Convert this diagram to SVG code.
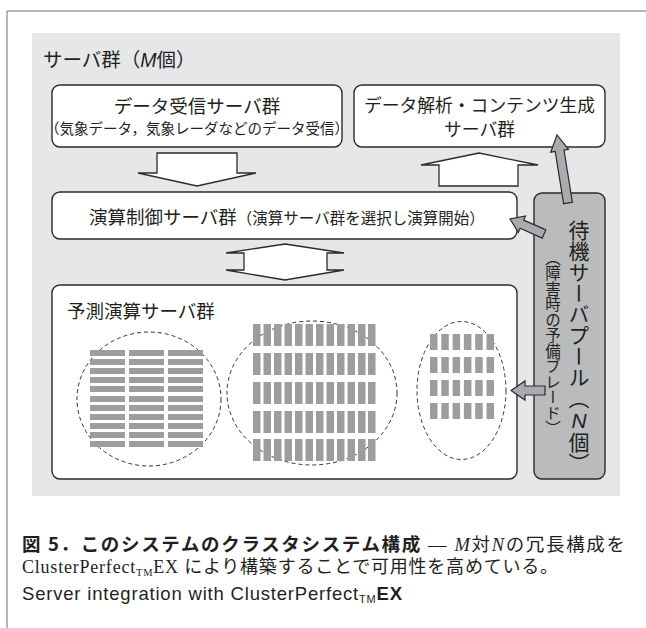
<svg xmlns="http://www.w3.org/2000/svg" width="646" height="628" viewBox="0 0 646 628">
<style>
.box{fill:#fff;stroke:#2b2b2b;stroke-width:1.4}
.hollow{fill:#fff;stroke:#2b2b2b;stroke-width:1.3;stroke-linejoin:miter}
.garrow{fill:#a9abae;stroke:#2b2b2b;stroke-width:1.2;stroke-linejoin:miter}
.t{font-family:"Noto Sans CJK JP","Noto Sans",sans-serif;fill:#231f20}
.ell{fill:none;stroke:#333;stroke-width:1;stroke-dasharray:4 3}
.blk{fill:#9d9d9d}
.cap{font-family:"Noto Sans CJK JP",sans-serif;font-weight:700;fill:#231f20}
.ser{font-family:"Liberation Serif","Noto Sans CJK JP",serif;font-weight:400;fill:#231f20}
.en{font-family:"Liberation Sans",Arial,sans-serif;fill:#231f20}
</style>
<defs>
<rect id="hb" width="35" height="6" class="blk"/>
<rect id="vb" width="7.5" height="22" class="blk"/>
<rect id="sb" width="7.5" height="16" class="blk"/>
<g id="vrow">
<use href="#vb" x="253"/><use href="#vb" x="263.5"/><use href="#vb" x="274"/><use href="#vb" x="284.5"/><use href="#vb" x="295"/><use href="#vb" x="305.5"/><use href="#vb" x="316"/><use href="#vb" x="326.5"/><use href="#vb" x="337"/><use href="#vb" x="347.5"/><use href="#vb" x="358"/><use href="#vb" x="368"/>
</g>
<g id="srow">
<use href="#sb" x="430"/><use href="#sb" x="441.3"/><use href="#sb" x="452.6"/><use href="#sb" x="463.9"/><use href="#sb" x="475.2"/><use href="#sb" x="486.5"/>
</g>
<g id="hrow">
<use href="#hb" x="90"/><use href="#hb" x="129"/><use href="#hb" x="168"/>
</g>
</defs>
<!-- frame -->
<path d="M7 628 V11 H646" fill="none" stroke="#6d6e70" stroke-width="1"/>
<!-- gray background -->
<rect id="bg" x="32" y="33" width="588" height="463" fill="#e6e7e8"/>
<text class="t" x="43" y="67" font-size="19.5">サーバ群（<tspan font-family="Liberation Sans" font-style="italic">M</tspan>個）</text>

<g id="data-receive">
<rect class="box" x="52" y="85" width="290" height="62" rx="8"/>
<text class="t" x="197" y="113" font-size="18.5" text-anchor="middle">データ受信サーバ群</text>
<text class="t" x="197" y="134" font-size="14.5" text-anchor="middle">（気象データ，気象レーダなどのデータ受信）</text>
</g>
<g id="data-analysis">
<rect class="box" x="354" y="85" width="251" height="62" rx="8"/>
<text class="t" x="479.5" y="112" font-size="17.8" text-anchor="middle">データ解析・コンテンツ生成</text>
<text class="t" x="479.5" y="135.5" font-size="17.8" text-anchor="middle">サーバ群</text>
</g>
<g id="control">
<rect class="box" x="52" y="192" width="465" height="47" rx="8"/>
<text class="t" x="89" y="224" font-size="18.5">演算制御サーバ群<tspan font-size="15.5">（演算サーバ群を選択し演算開始）</tspan></text>
</g>
<g id="prediction">
<rect class="box" x="52" y="285" width="465" height="194" rx="8"/>
<text class="t" x="67" y="318" font-size="18.5">予測演算サーバ群</text>
<g id="cluster1">
<ellipse class="ell" cx="149" cy="399" rx="72" ry="67"/>
<use href="#hrow" y="350"/><use href="#hrow" y="359"/><use href="#hrow" y="368"/><use href="#hrow" y="377"/><use href="#hrow" y="386"/><use href="#hrow" y="396"/><use href="#hrow" y="405"/><use href="#hrow" y="414"/><use href="#hrow" y="423"/><use href="#hrow" y="432"/><use href="#hrow" y="441"/>
</g>
<g id="cluster2">
<ellipse class="ell" cx="312" cy="393" rx="85" ry="72"/>
<use href="#vrow" y="324"/><use href="#vrow" y="353"/><use href="#vrow" y="382"/><use href="#vrow" y="411"/><use href="#vrow" y="439"/>
</g>
<g id="cluster3">
<ellipse class="ell" cx="461.5" cy="390.5" rx="44.5" ry="69"/>
<use href="#srow" y="334"/><use href="#srow" y="357"/><use href="#srow" y="380"/><use href="#srow" y="403"/>
</g>
</g>
<g id="standby">
<rect x="534" y="193" width="71" height="286" rx="8" fill="#b9bbbd" stroke="#2b2b2b" stroke-width="1.4"/>
<text class="t" x="579" y="220" font-size="21" style="writing-mode:vertical-rl;text-orientation:upright">待機サーバプール（<tspan font-family="Liberation Sans" font-style="italic">N</tspan>個）</text>
<text class="t" x="553" y="250" font-size="15.5" style="writing-mode:vertical-rl;text-orientation:upright">（障害時の予備ブレード）</text>
</g>
<g id="connectors">
<polygon class="hollow" points="157,153 237,153 237,173 256,173 197,186 138,173 157,173"/>
<polygon class="hollow" points="439,186 518,186 518,165 538,165 479,153 421,165 439,165"/>
<polygon class="hollow" points="285,244 344,253 327,253 327,270 344,270 285,280 226,270 244,270 244,253 226,253"/>
<polygon class="garrow" points="563.6,203.7 555.2,151.5 550.7,152.2 557,135 568.5,149.4 564,150.1 572.4,202.3"/>
<polygon class="garrow" points="542.2,238.1 520.1,228.3 518.3,232.4 510,219 525.5,216 523.7,220.1 545.8,229.9"/>
<polygon class="garrow" points="545,386 525,386 525,381 511,390.5 525,400 525,395 545,395"/>
</g>
<g id="caption">
<text class="cap" x="22" y="551" font-size="18.5" textLength="603" lengthAdjust="spacing">図 5．このシステムのクラスタシステム構成<tspan class="ser"> — <tspan font-style="italic">M</tspan>対<tspan font-style="italic">N</tspan>の冗長構成を</tspan></text>
<text class="ser" x="22" y="573" font-size="18" textLength="536" lengthAdjust="spacing">ClusterPerfect<tspan font-size="10.5" dy="3">TM</tspan><tspan dy="-3">EX により構築することで可用性を高めている。</tspan></text>
<text class="en" x="22" y="600" font-size="18.5" textLength="380" lengthAdjust="spacing">Server integration with ClusterPerfect<tspan font-size="11" dy="3">TM</tspan><tspan dy="-3" font-weight="700">EX</tspan></text>
</g>
</svg>
